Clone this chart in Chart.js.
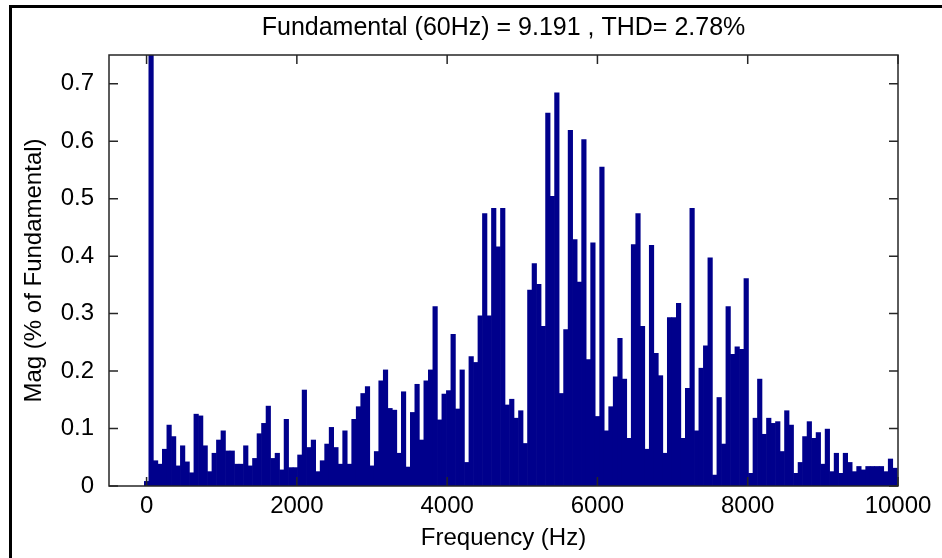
<!DOCTYPE html>
<html>
<head>
<meta charset="utf-8">
<script src="https://cdn.jsdelivr.net/npm/chart.js@4"></script>
<style>
  html, body { margin: 0; padding: 0; background: #fff; }
  canvas { display: block; }
</style>
</head>
<body>
<canvas id="fftChart" width="942" height="558"></canvas>
<script>
"use strict";

const fundamentalHz = 60;
const titleText = "Fundamental (60Hz) = 9.191 , THD= 2.78%";
const xLabel = "Frequency (Hz)";
const yLabel = "Mag (% of Fundamental)";

// magnitude of each harmonic (index = harmonic order), % of fundamental
const magDC = [0.008];
const magFundamental = [100];
const mag0to2k = [0.044, 0.038, 0.064, 0.106, 0.086, 0.035, 0.070, 0.042, 0.023, 0.125,
  0.122, 0.070, 0.025, 0.057, 0.080, 0.096, 0.061, 0.061, 0.038, 0.038,
  0.070, 0.035, 0.048, 0.091, 0.109, 0.139];
const mag2kto3k = [0.048, 0.057, 0.028, 0.116, 0.032, 0.032, 0.054, 0.167, 0.067, 0.080,
  0.025, 0.044, 0.073, 0.102, 0.067, 0.038, 0.096, 0.038, 0.116, 0.138,
  0.161, 0.173, 0.035, 0.060, 0.183, 0.202];
const mag3kto5k = [0.135, 0.132, 0.057, 0.164, 0.033, 0.128, 0.177, 0.080, 0.183, 0.202,
  0.312, 0.115, 0.160, 0.166, 0.264, 0.134, 0.202, 0.041, 0.225, 0.215,
  0.296, 0.474, 0.296, 0.483, 0.416, 0.483];
const mag5kto6k = [0.141, 0.151, 0.118, 0.131, 0.074, 0.341, 0.387, 0.351, 0.278, 0.649,
  0.504, 0.684, 0.161, 0.272, 0.619, 0.429, 0.355, 0.603, 0.220, 0.423,
  0.121, 0.555, 0.096, 0.138, 0.190, 0.257, 0.186, 0.083];
const mag6kto8k = [0.420, 0.474, 0.278, 0.064, 0.419, 0.231, 0.192, 0.057, 0.293, 0.293,
  0.318, 0.083, 0.170, 0.483, 0.096, 0.205, 0.244, 0.397, 0.019, 0.154,
  0.073, 0.312, 0.229, 0.242, 0.238, 0.361];
const mag8kto10k = [0.022, 0.118, 0.186, 0.090, 0.118, 0.109, 0.112, 0.060, 0.131, 0.106,
  0.022, 0.041, 0.086, 0.112, 0.083, 0.093, 0.038, 0.099, 0.025, 0.057,
  0.022, 0.057, 0.041, 0.025, 0.034, 0.028, 0.034, 0.034, 0.034, 0.034,
  0.025, 0.047, 0.031];

const xTickValues = [0, 2000, 4000, 6000, 8000, 10000];
const yTickValues = [0, 0.1, 0.2, 0.3, 0.4, 0.5, 0.6, 0.7];
const yTickLabels = ["0", "0.1", "0.2", "0.3", "0.4", "0.5", "0.6", "0.7"];

const magnitudes = [].concat(magDC, magFundamental, mag0to2k, mag2kto3k,
  mag3kto5k, mag5kto6k, mag6kto8k, mag8kto10k);
const points = magnitudes.map((m, h) => ({ x: h * fundamentalHz, y: m }));

const FONT = { family: "'Liberation Sans', Arial, sans-serif", size: 24 };

// white page, black frame edges, axes box and inward ticks like matlab
const framePlugin = {
  id: "frame",
  beforeDraw(chart) {
    const c = chart.ctx;
    c.save();
    c.fillStyle = "#fff";
    c.fillRect(0, 0, chart.width, chart.height);
    c.fillStyle = "#000";
    c.fillRect(9, 5, chart.width - 9, 3);
    c.fillRect(9, 5, 3, chart.height - 5);
    c.restore();
  },
  afterDraw(chart) {
    const c = chart.ctx;
    const a = chart.chartArea;
    const x = chart.scales.x;
    const y = chart.scales.y;
    c.save();
    c.strokeStyle = "#262626";
    c.lineWidth = 1.5;
    c.strokeRect(a.left, a.top, a.right - a.left, a.bottom - a.top);
    c.beginPath();
    x.ticks.forEach(t => {
      const px = x.getPixelForValue(t.value);
      c.moveTo(px, a.bottom); c.lineTo(px, a.bottom - 9);
      c.moveTo(px, a.top); c.lineTo(px, a.top + 9);
    });
    y.ticks.forEach(t => {
      const py = y.getPixelForValue(t.value);
      c.moveTo(a.left, py); c.lineTo(a.left + 9, py);
      c.moveTo(a.right, py); c.lineTo(a.right - 9, py);
    });
    c.stroke();
    c.restore();
  }
};

new Chart(document.getElementById("fftChart"), {
  type: "bar",
  data: {
    datasets: [{
      label: "Mag",
      data: points,
      backgroundColor: "#00008c",
      borderWidth: 0,
      barPercentage: 1,
      categoryPercentage: 1
    }]
  },
  options: {
    responsive: false,
    animation: false,
    devicePixelRatio: 1,
    layout: { padding: { left: 13, right: 44, top: 0, bottom: 0 } },
    plugins: {
      legend: { display: false },
      tooltip: { enabled: false },
      title: {
        display: true,
        text: titleText,
        fullSize: false,
        color: "#000",
        font: Object.assign({}, FONT, { size: 25, weight: "normal" }),
        padding: { top: 13, bottom: 12 }
      }
    },
    scales: {
      x: {
        type: "linear",
        min: -500,
        max: 10000,
        offset: false,
        grid: { display: false },
        border: { display: false },
        afterBuildTicks: s => { s.ticks = xTickValues.map(v => ({ value: v })); },
        afterFit: s => { s.height = 72; },
        ticks: {
          color: "#000",
          font: FONT,
          padding: -2,
          maxRotation: 0,
          autoSkip: false,
          callback: v => String(v)
        },
        title: {
          display: true,
          text: xLabel,
          color: "#000",
          font: FONT,
          padding: { top: 0, bottom: 5 }
        }
      },
      y: {
        min: 0,
        max: 0.75,
        grid: { display: false },
        border: { display: false },
        afterBuildTicks: s => { s.ticks = yTickValues.map(v => ({ value: v })); },
        afterFit: s => { s.width = 96; },
        ticks: {
          color: "#000",
          font: FONT,
          padding: 7,
          autoSkip: false,
          callback: (v, i) => yTickLabels[i]
        },
        title: {
          display: true,
          text: yLabel,
          color: "#000",
          font: FONT,
          padding: { top: 7, bottom: 0 }
        }
      }
    }
  },
  plugins: [framePlugin]
});
</script>
</body>
</html>
